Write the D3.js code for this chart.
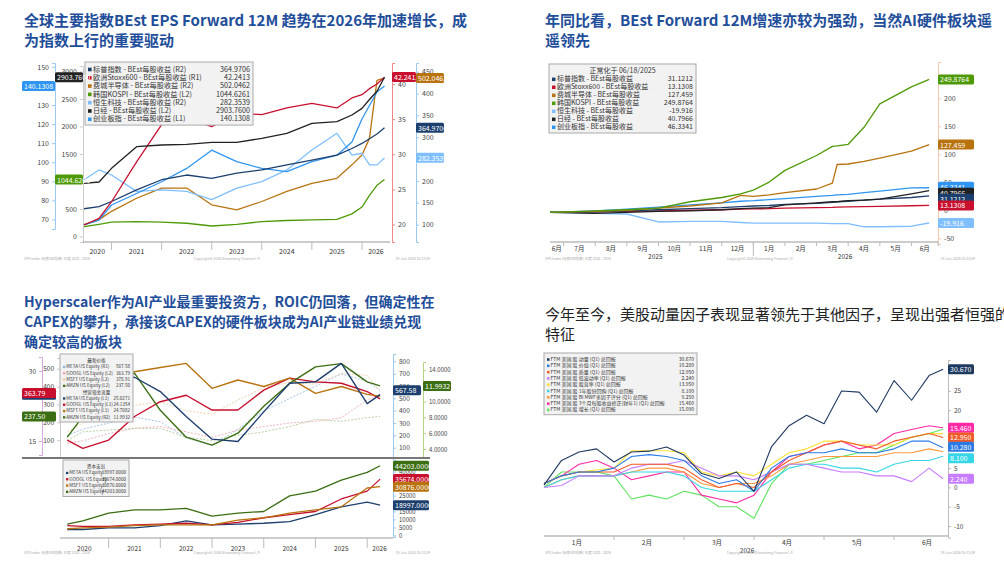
<!DOCTYPE html>
<html>
<head>
<meta charset="UTF-8">
<script src="https://d3js.org/d3.v7.min.js"></script>
<style>
  body { margin: 0; background: #fff; }
  text { font-family: "Noto Sans CJK SC", "Noto Sans", sans-serif; }
</style>
</head>
<body>
<div class="canvas"></div>
<script>
// ---------- panel 1: EPS level ----------
const dates1 = [2020.45,2020.75,2021.0,2021.5,2022.0,2022.5,2023.0,2023.5,2024.0,2024.5,2025.0,2025.5,2025.8,2026.0,2026.15,2026.3,2026.45]
const nikkei1 = [976,1000,1248,1642,1673,1685,1721,1721,1794,1885,2067,2097,2218,2339,2500,2650,2904]
const stoxx1 = [20.0,21.0,23.5,29.5,35.1,36.1,34.8,36.8,36.6,37.6,38.3,37.6,39.1,39.6,40.5,41.2,42.24]
const sp1 = [142,148,162,194,222,235,226,240,249,263,276,290,308,322,335,348,365]
const semis1 = [98,112,135,171,199,199,153,139,162,190,212,226,263,290,336,496,502]
const kospi1 = [188,230,270,280,270,250,200,230,280,300,310,320,420,545,757,939,1045]
const hstech1 = [222,249,235,190,194,190,167,199,217,249,304,350,290,295,263,263,282]
const chinext1 = [68,70.5,78.3,84.3,90.4,97.3,106.8,100.8,97.3,95.6,100.8,104.2,111,123,130,137,140.13]
const names1 = ['标普指数 - BEst每股收益 (R2)','欧洲Stoxx600 - BEst每股收益 (R1)','费城半导体 - BEst每股收益 (R2)','韩国KOSPI - BEst每股收益 (L2)','恒生科技 - BEst每股收益 (R2)','日经 - BEst每股收益 (L2)','创业板指 - BEst每股收益 (L1)']
const last1 = ['364.9706','42.2413','502.0462','1044.6261','282.3539','2903.7600','140.1308']
const years1 = [2020,2021,2022,2023,2024,2025,2026]

// ---------- panel 2: normalised ----------
const dates2 = [5.57,7,8,9,10,11,11.6,12,12.5,13,14,14.5,14.65,15,15.5,16,17,17.56]  // months since Jan 2025
const kospi2 = [0,3,5,8,20,28,35,42,57,79,107,124,125,128,160,204,236,249.88]
const semis2 = [0,2,4,8,12,18,32,30,33,37,44,55,90,91,96,102,115,127.46]
const chinext2 = [0,3,6,10,14,18,21,22,24,26,30,32,33,34,37,40,46,46.33]
const nikkei2 = [0,-2,0,2,3,5,7,8,9,14,18,20,20,22,23,25,35,40.8]
const sp2 = [0,1,3,5,7,9,11,12,13,15,17,19,20,21,23,25,28,31.12]
const stoxx2 = [0,1,2,3,4,5,6,6.5,7,8,9,9.5,10,10.5,11,11.5,12.5,13.13]
const hstech2 = [0,-2,-3,-18,-17,-17,-19,-20,-20,-20,-20,-21,-21,-21,-27,-27,-26,-19.92]
const names2 = ['标普指数 - BEst每股收益','欧洲Stoxx600 - BEst每股收益','费城半导体 - BEst每股收益','韩国KOSPI - BEst每股收益','恒生科技 - BEst每股收益','日经 - BEst每股收益','创业板指 - BEst每股收益']
const last2 = ['31.1212','13.1308','127.459','249.8764','-19.916','40.7966','46.3341']
const months2 = ['6月','7月','8月','9月','10月','11月','12月','1月','2月','3月','4月','5月','6月']

// ---------- panel 3: hyperscalers ----------
const dates3 = [2020.2,2020.5,2021.0,2021.5,2022.0,2022.5,2023.0,2023.5,2024.0,2024.5,2025.0,2025.5,2026.0,2026.25]
const metaPE = [19.4,20.6,28.0,28.8,25.7,20.3,15.4,14.9,21.3,27.5,27.8,31.8,23.1,25.03]
const googlPE = [15.2,13.4,15.2,20.3,23.5,24.9,21.7,21.7,26.0,28.6,27.8,27.5,25.7,24.14]
const msftPE = [23.1,25.0,28.2,30.0,30.9,31.8,26.4,28.2,26.8,28.6,25.3,26.8,25.1,24.71]
const amznPE = [5.5,8.1,11.9,13.6,8.9,5.5,4.5,6.0,9.4,12.3,14.4,14.8,12.5,11.99]
const metaPx = [200,250,300,350,310,180,120,250,400,500,600,700,640,567.58]
const googlPx = [85,100,140,170,180,150,120,160,180,200,210,230,330,363.79]
const msftPx = [150,200,250,300,320,270,250,330,400,430,420,480,470,378.91]
const amznPx = [100,150,160,170,170,120,100,130,150,180,220,210,230,237.5]
const amznCap = [7000,9000,14000,16000,16000,17000,12000,14000,15000,25000,28000,35000,40000,44203]
const googlCap = [6000,5500,5500,6500,7000,7500,6500,8000,11000,13000,15000,23000,28000,35674]
const msftCap = [4000,4500,5000,6000,6500,6500,6500,9500,11000,14000,16000,18000,30000,30876]
const metaCap = [3500,3500,4500,4500,6000,9000,6500,7000,7500,8500,13000,18000,21000,18997]

// ---------- panel 4: factors ----------
const dates4 = [0,0.25,0.5,0.75,1,1.25,1.5,1.75,2,2.25,2.5,2.75,3,3.25,3.5,3.75,4,4.25,4.5,4.75,5,5.25,5.5,5.7]
const fMom = [0.6,7,9.2,10,6.6,9.2,9.4,10.5,8.4,3.6,2.3,4,-1,10.6,16,18.7,16.5,25,24.7,19.5,27.7,22.6,29,30.67]
const fValue = [1,3,4,4,5,8,8.5,8,7,3,1,2,-1,5,8,9,9,10,9,9,10,12,12,10.28]
const fQual = [1,3,4,4,4,6,6,6,5,2,0,1,0,4,7,9,11,12,11,10,12,13,14,12.95]
const fLowVol = [0,0.5,3,3,3,5,6,6,7,5,3,3,2,4,6,6,5,4,4,3,3,1.5,5,2.24]
const fYield = [1,3,4,4.5,5,9.5,9.5,9.5,9,4,3,4,3,6,9,10,12,12,11,11,11,13,14,13.95]
const fBuyback = [0,2,3,3,3,4,4,4,3,0,-1,-1,-1,2,5,6,6,5,5,4,6,7,7,8.1]
const fMwf = [0,2,3,3,3,4,5,5,4,1,0,1,1,3,6,7,8,8,8,8,9,9,10,9.25]
const fRev = [1,3,6,7,5,2,3,4,4,-2,-3,-4,-2,4,8,9,11,12,10,11,14,15,16,15.46]
const fGrowth = [0,4,4,4,3,-3,-2,-3,-1,-2,-5,-5,-8,1,6,6,7,8,9,9,11,13,14,15.09]
const names4 = ['FTM 美国 股 动量 (Q1) 总回报','FTM 美国 股 价值 (Q1) 总回报','FTM 美国 股 质量 (Q1) 总回报','FTM 美国 股 低波动率 (Q1) 总回报','FTM 美国 股 股息率 (Q1) 总回报','FTM 美国 股 1年股份回购 (Q1) 总回报','FTM 美国 股 BI MWF多因子评分 (Q1) 总回报','FTM 美国 股 3个月每股收益修正(财年1) (Q1) 总回报','FTM 美国 股 增长 (Q1) 总回报']
const last4 = ['30.670','10.280','12.950','2.240','13.950','8.100','9.250','15.460','15.090']
const months4 = ['1月','2月','3月','4月','5月','6月']

// ---------- colours ----------
const cNavy = '#1d3f6e', cRed = '#c8102e', cBrown = '#b8730f', cGreen = '#4e9a06', cLight = '#7fbfff', cBlack = '#222', cBlue = '#2f95f0'
const colors4 = ['#1f3a60','#2c7be5','#f05a28','#c77dff','#ffe033','#36d6e7','#ff9a3c','#ff2aa6','#5ee35e']

const svg = d3.select('.canvas').append('svg').attr('width', 1004).attr('height', 570)

function title(x, y, lines, opt) {
  lines.forEach((t, i) => svg.append('text').attr('x', x).attr('y', y + i * 20).text(t)
    .attr('font-size', opt.size || 15).attr('font-weight', opt.bold ? 700 : 400).attr('fill', opt.color))
}
function drawLine(g, xs, ys, dates, vals, color, w, dash) {
  const line = d3.line().x((d, i) => xs(dates[i])).y(d => ys(d))
  g.append('path').attr('d', line(vals)).attr('fill', 'none').attr('stroke', color)
    .attr('stroke-width', w).attr('stroke-dasharray', dash || null).attr('stroke-linejoin', 'round')
}
function axisV(x, ys, ticks, side, color, fmt, fs) {
  const g = svg.append('g').attr('transform', `translate(${x},0)`)
  const ax = (side === 'right' ? d3.axisRight(ys) : d3.axisLeft(ys)).tickValues(ticks).tickSize(3).tickFormat(fmt || (d => d))
  g.call(ax)
  g.select('.domain').attr('stroke', color)
  g.selectAll('.tick line').attr('stroke', color)
  g.selectAll('text').attr('font-size', fs || 7).attr('fill', '#444')
  return g
}
function tag(x, y, txt, color, w, right) {
  const g = svg.append('g')
  const x0 = right ? x : x - w
  g.append('rect').attr('x', x0).attr('y', y - 5).attr('width', w).attr('height', 10).attr('fill', color).attr('rx', 1.5)
  g.append('text').attr('x', x0 + 2).attr('y', y + 3).attr('font-size', 7).attr('fill', '#fff').text(txt)
}
function legend(x, y, w, rows, fs, rh, header) {
  const g = svg.append('g').attr('transform', `translate(${x},${y})`)
  let n = rows.length + (header ? header.length : 0)
  g.append('rect').attr('width', w).attr('height', n * rh + 5).attr('fill', '#f2f2f2').attr('stroke', '#aaa')
  let yy = 3 + rh * 0.8
  rows.forEach(r => {
    if (r.header) {
      g.append('text').attr('x', w / 2).attr('y', yy).attr('text-anchor', 'middle').attr('font-size', fs).attr('fill', '#333').text(r.header)
    } else {
      g.append('rect').attr('x', 3).attr('y', yy - fs * 0.55).attr('width', fs * 0.5).attr('height', fs * 0.5).attr('fill', r.color)
      g.append('text').attr('x', 3 + fs * 0.7).attr('y', yy).attr('font-size', fs).attr('fill', '#333').text(r.name)
      g.append('text').attr('x', w - 3).attr('y', yy).attr('text-anchor', 'end').attr('font-size', fs).attr('fill', '#333').text(r.value)
    }
    yy += rh
  })
}
function foot(x1, x2, y) {
  svg.append('text').attr('x', x1).attr('y', y).attr('font-size', 3.5).attr('fill', '#aaa').text('SPX Index (标普500指数) 日度 2020 - 2026')
  svg.append('text').attr('x', (x1 + x2) / 2).attr('y', y).attr('text-anchor', 'middle').attr('font-size', 3.5).attr('fill', '#aaa').text('Copyright© 2026 Bloomberg Finance L.P.')
  svg.append('text').attr('x', x2).attr('y', y).attr('text-anchor', 'end').attr('font-size', 3.5).attr('fill', '#aaa').text('19-Jun-2026 15:33:29')
}

// ================= PANEL 1 =================
title(24, 26, ['全球主要指数BEst EPS Forward 12M 趋势在2026年加速增长，成', '为指数上行的重要驱动'], { bold: true, color: '#1f4e9a' })
{
  const x = d3.scaleLinear().domain([2020.43, 2026.56]).range([83, 390])
  const yL1 = d3.scaleLinear().domain([70, 150]).range([221, 67])
  const yL2 = d3.scaleLinear().domain([0, 3000]).range([237, 72])
  const yR1 = d3.scaleLinear().domain([20, 40]).range([225, 92])
  const yR2 = d3.scaleLinear().domain([100, 450]).range([224, 97])
  axisV(55, yL1.copy().domain([65, 152]).range([229, 63]), d3.range(70, 151, 10), 'left', '#9cc9f0')
  axisV(83, yL2.copy().domain([-100, 3100]).range([242, 66]), d3.range(0, 3001, 500), 'left', '#ccc')
  axisV(392, yR1.copy().domain([17.5, 43]).range([242, 63]), d3.range(20, 41, 5), 'right', '#e88')
  axisV(416, yR2.copy().domain([60, 470]).range([242, 63]), d3.range(100, 451, 50), 'right', '#9cc9f0')
  const xa = svg.append('g').attr('transform', 'translate(0,242)')
  xa.append('line').attr('x1', 83).attr('x2', 390).attr('stroke', '#999')
  years1.forEach(yr => {
    if (yr > 2020) xa.append('line').attr('x1', x(yr)).attr('x2', x(yr)).attr('y2', 8).attr('stroke', '#bbb')
    const c = (Math.max(yr, 2020.43) + Math.min(yr + 1, 2026.56)) / 2
    xa.append('text').attr('x', x(c)).attr('y', 12).attr('text-anchor', 'middle').attr('font-size', 7).attr('fill', '#333').text(yr)
  })
  const g = svg.append('g')
  drawLine(g, x, yL2, dates1, kospi1, cGreen, 1.3)
  drawLine(g, x, yR2, dates1, semis1, cBrown, 1.3)
  drawLine(g, x, yR2, dates1, hstech1, cLight, 1.3)
  drawLine(g, x, yL1, dates1, chinext1, cBlue, 1.3)
  drawLine(g, x, yR2, dates1, sp1, cNavy, 1.3)
  drawLine(g, x, yR1, dates1, stoxx1, cRed, 1.3)
  drawLine(g, x, yL2, dates1, nikkei1, cBlack, 1.3)
  const cols = [cNavy, cRed, cBrown, cGreen, cLight, cBlack, cBlue]
  legend(85, 62, 168, names1.map((n, i) => ({ name: n, value: last1[i], color: cols[i] })), 7.2, 8.3)
  tag(55, yL1(140.13), '140.1308', cBlue, 33)
  tag(83, yL2(2903.76), '2903.7600', cBlack, 28)
  tag(83, yL2(1044.63), '1044.6261', cGreen, 28)
  tag(392, yR1(42.24), '42.2413', cRed, 24, true)
  tag(416, yR2(502.05), '502.0462', cBrown, 28, true)
  tag(416, yR2(364.97), '364.9706', cNavy, 28, true)
  tag(416, yR2(282.35), '282.3539', cLight, 28, true)
  foot(24, 430, 260)
}

// ================= PANEL 2 =================
title(545, 26, ['年同比看，BEst Forward 12M增速亦较为强劲，当然AI硬件板块遥', '遥领先'], { bold: true, color: '#1f4e9a' })
{
  const x = d3.scaleLinear().domain([5.57, 17.84]).range([550, 938])
  const y = d3.scaleLinear().domain([-50, 250]).range([239, 79.4])
  axisV(938, y.copy().domain([-60, 265]).range([244, 62]), [-50, 0, 50, 100, 150, 200], 'right', '#f3c7b0')
  const xa = svg.append('g').attr('transform', 'translate(0,242)')
  xa.append('line').attr('x1', 550).attr('x2', 938).attr('stroke', '#999')
  months2.forEach((m, i) => {
    const t0 = i === 0 ? 5.57 : 5 + i, t1 = i === 12 ? 17.84 : 6 + i
    xa.append('line').attr('x1', x(t1)).attr('x2', x(t1)).attr('y2', 4).attr('stroke', '#bbb')
    xa.append('text').attr('x', x((t0 + t1) / 2)).attr('y', 9).attr('text-anchor', 'middle').attr('font-size', 6.5).attr('fill', '#333').text(m)
  })
  xa.append('line').attr('x1', x(12)).attr('x2', x(12)).attr('y2', 14).attr('stroke', '#bbb')
  xa.append('text').attr('x', x(8.9)).attr('y', 17).attr('text-anchor', 'middle').attr('font-size', 6.5).attr('fill', '#333').text('2025')
  xa.append('text').attr('x', x(14.9)).attr('y', 17).attr('text-anchor', 'middle').attr('font-size', 6.5).attr('fill', '#333').text('2026')
  const g = svg.append('g')
  drawLine(g, x, y, dates2, hstech2, cLight, 1.3)
  drawLine(g, x, y, dates2, stoxx2, cRed, 1.3)
  drawLine(g, x, y, dates2, sp2, cNavy, 1.3)
  drawLine(g, x, y, dates2, nikkei2, cBlack, 1.3)
  drawLine(g, x, y, dates2, chinext2, cBlue, 1.3)
  drawLine(g, x, y, dates2, semis2, cBrown, 1.3)
  drawLine(g, x, y, dates2, kospi2, cGreen, 1.3)
  const cols = [cNavy, cRed, cBrown, cGreen, cLight, cBlack, cBlue]
  legend(549, 64, 147, [{ header: '正常化于 06/18/2025' }].concat(names2.map((n, i) => ({ name: n, value: last2[i], color: cols[i] }))), 7, 8)
  tag(938, y(249.88), '249.8764', cGreen, 36, true)
  tag(938, y(127.46), '127.459', cBrown, 36, true)
  tag(938, y(48), '46.3341', cBlue, 36, true)
  tag(938, y(40.8) + 2, '40.7966', cBlack, 36, true)
  tag(938, y(31.12) + 3, '31.1212', cNavy, 36, true)
  tag(938, y(13.13), '13.1308', cRed, 36, true)
  tag(938, y(-19.92), '-19.916', cLight, 36, true)
  foot(545, 975, 260)
}

// ================= PANEL 3 =================
title(24, 307, ['Hyperscaler作为AI产业最重要投资方，ROIC仍回落，但确定性在', 'CAPEX的攀升，承接该CAPEX的硬件板块成为AI产业链业绩兑现', '确定较高的板块'], { bold: true, color: '#1f4e9a', size: 14 })
{
  const x = d3.scaleLinear().domain([2020.06, 2026.48]).range([60, 392])
  const yL1 = d3.scaleLinear().domain([15, 30]).range([441, 371.7])
  const yL2 = d3.scaleLinear().domain([100, 500]).range([440.7, 370])
  const yR1 = d3.scaleLinear().domain([100, 800]).range([447.7, 361.7])
  const yR2 = d3.scaleLinear().domain([4, 14]).range([449, 370])
  const yC = d3.scaleLinear().domain([0, 45000]).range([535, 464.5])
  axisV(42, yL1.copy().domain([12, 33]).range([455, 357]), [15, 20, 25, 30], 'left', '#d9a6e0', null, 6.5)
  axisV(60, yL2.copy().domain([0, 560]).range([458, 358]), [100, 200, 300, 400, 500], 'left', '#ccc', null, 6.5)
  axisV(393, yR1.copy().domain([0, 860]).range([460, 354]), d3.range(100, 801, 100), 'right', '#9cc9f0', null, 6.5)
  axisV(423, yR2.copy().domain([3, 15]).range([457, 362]), [4, 6, 8, 10, 14], 'right', '#b7d37f', d => d.toFixed(4), 6)
  axisV(393, yC.copy().domain([-1000, 46000]).range([537, 462]), d3.range(0, 40001, 5000), 'right', '#9cc9f0', null, 6)
  svg.append('line').attr('x1', 22).attr('x2', 430).attr('y1', 458).attr('y2', 458).attr('stroke', '#777').attr('stroke-width', 2)
  const xa = svg.append('g').attr('transform', 'translate(0,538)')
  xa.append('line').attr('x1', 60).attr('x2', 393).attr('stroke', '#999')
  d3.range(2020, 2027).forEach(yr => {
    if (yr > 2020) xa.append('line').attr('x1', x(yr)).attr('x2', x(yr)).attr('y2', 10).attr('stroke', '#bbb')
    const c = (Math.max(yr, 2020.06) + Math.min(yr + 1, 2026.48)) / 2
    xa.append('text').attr('x', x(c)).attr('y', 13).attr('text-anchor', 'middle').attr('font-size', 6.5).attr('fill', '#333').text(yr)
  })
  const g = svg.append('g')
  drawLine(g, x, yR1, dates3, metaPx, '#8fb6df', 0.8, '2,1.5')
  drawLine(g, x, yL2, dates3, googlPx, '#f2a1ad', 0.8, '2,1.5')
  drawLine(g, x, yL2, dates3, msftPx, '#e9c79a', 0.8, '2,1.5')
  drawLine(g, x, yL2, dates3, amznPx, '#a8c48a', 0.8, '2,1.5')
  drawLine(g, x, yL1, dates3, googlPE, cRed, 1.4)
  drawLine(g, x, yL1, dates3, msftPE, cBrown, 1.4)
  drawLine(g, x, yR2, dates3, amznPE, '#3b6e12', 1.4)
  drawLine(g, x, yL1, dates3, metaPE, cNavy, 1.4)
  drawLine(g, x, yC, dates3, metaCap, cNavy, 1.3)
  drawLine(g, x, yC, dates3, googlCap, cRed, 1.3)
  drawLine(g, x, yC, dates3, msftCap, cBrown, 1.3)
  drawLine(g, x, yC, dates3, amznCap, '#3b6e12', 1.3)
  legend(60, 354, 73, [{ header: '最新价格' },
    { name: 'META US Equity (R1)', value: '567.58', color: '#8fb6df' },
    { name: 'GOOGL US Equity (L2)', value: '363.79', color: '#f2a1ad' },
    { name: 'MSFT US Equity (L2)', value: '378.91', color: '#e9c79a' },
    { name: 'AMZN US Equity (L2)', value: '237.50', color: '#3b6e12' },
    { header: '经营现金流量' },
    { name: 'META US Equity (L1)', value: '25.0271', color: cNavy },
    { name: 'GOOGL US Equity (L1)', value: '24.1354', color: cRed },
    { name: 'MSFT US Equity (L1)', value: '24.7082', color: cBrown },
    { name: 'AMZN US Equity (R2)', value: '11.9932', color: '#3b6e12' }], 4.6, 6.3)
  legend(63, 460, 66, [{ header: '资本支出' },
    { name: 'META US Equity', value: '18997.0000', color: cNavy },
    { name: 'GOOGL US Equity', value: '35674.0000', color: cRed },
    { name: 'MSFT US Equity', value: '30876.0000', color: cBrown },
    { name: 'AMZN US Equity', value: '44203.0000', color: '#3b6e12' }], 4.6, 6.3)
  tag(56, yL1(25.03), '25.0271', cNavy, 34)
  tag(56, yL2(363.79) - 1, '363.79', cRed, 34)
  tag(56, yL2(237.5), '237.50', '#3b6e12', 34)
  tag(393, yR1(567.58), '567.58', cNavy, 28, true)
  tag(423, yR2(11.99), '11.9932', '#3b6e12', 28, true)
  tag(393, yC(44203), '44203.0000', '#3b6e12', 36, true)
  tag(393, yC(35674), '35674.0000', cRed, 36, true)
  tag(393, yC(30876), '30876.0000', cBrown, 36, true)
  tag(393, yC(18997), '18997.0000', cNavy, 36, true)
  foot(24, 430, 554)
}

// ================= PANEL 4 =================
title(545, 320, ['今年至今，美股动量因子表现显著领先于其他因子，呈现出强者恒强的', '特征'], { bold: false, color: '#222', size: 15 })
{
  const x = d3.scaleLinear().domain([0, 5.77]).range([544, 948])
  const y = d3.scaleLinear().domain([-10, 25]).range([526, 391])
  axisV(948, y.copy().domain([-13, 33]).range([537.6, 360]), [-10, -5, 0, 5, 10, 15, 20, 25], 'right', '#bbb', null, 6.5)
  const xa = svg.append('g').attr('transform', 'translate(0,536)')
  xa.append('line').attr('x1', 544).attr('x2', 948).attr('stroke', '#999')
  months4.forEach((m, i) => {
    if (i > 0) xa.append('line').attr('x1', x(i)).attr('x2', x(i)).attr('y2', 4).attr('stroke', '#bbb')
    xa.append('text').attr('x', x(i + 0.47)).attr('y', 9).attr('text-anchor', 'middle').attr('font-size', 6.5).attr('fill', '#333').text(m)
  })
  xa.append('text').attr('x', x(2.9)).attr('y', 17).attr('text-anchor', 'middle').attr('font-size', 6.5).attr('fill', '#333').text('2026')
  const series = [fMom, fValue, fQual, fLowVol, fYield, fBuyback, fMwf, fRev, fGrowth]
  const g = svg.append('g')
  series.slice().reverse().forEach((s, k) => drawLine(g, x, y, dates4, s, colors4[8 - k], 1.1))
  legend(544, 353, 153, names4.map((n, i) => ({ name: n, value: last4[i], color: colors4[i] })), 5, 6.3)
  tag(948, y(30.67), '30.670', colors4[0], 26, true)
  tag(948, y(15.46), '15.460', colors4[7], 26, true)
  tag(948, y(12.95), '12.950', colors4[2], 26, true)
  tag(948, y(10.28) - 1, '10.280', colors4[1], 26, true)
  tag(948, y(8.1) + 2, '8.100', colors4[5], 26, true)
  tag(948, y(2.24), '2.240', colors4[3], 26, true)
  foot(545, 975, 554)
}
</script>
</body>
</html>
